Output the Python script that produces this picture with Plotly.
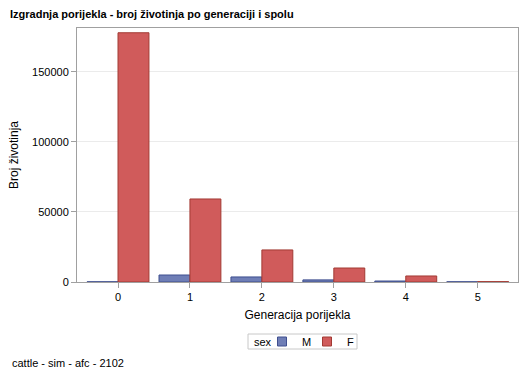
import plotly.graph_objects as go

generations = [0, 1, 2, 3, 4, 5]
male_counts = [150, 5000, 3600, 1500, 700, 150]
female_counts = [178000, 59300, 22900, 10000, 4300, 250]
y_ticks = [0, 50000, 100000, 150000]

m_fill, m_line = "#6F7EB6", "#3F4F8F"
f_fill, f_line = "#D05B5B", "#A23A33"

fig = go.Figure()
fig.add_trace(go.Bar(x=generations, y=male_counts, name="M", showlegend=False,
                     marker=dict(color=m_fill, line=dict(color=m_line, width=1))))
fig.add_trace(go.Bar(x=generations, y=female_counts, name="F", showlegend=False,
                     marker=dict(color=f_fill, line=dict(color=f_line, width=1))))
# legend entries (square swatches)
fig.add_trace(go.Scatter(x=[None], y=[None], mode="markers", name="M", legend="legend",
                         marker=dict(symbol="square", size=9, color=m_fill,
                                     line=dict(color=m_line, width=1))))
fig.add_trace(go.Scatter(x=[None], y=[None], mode="markers", name="F", legend="legend2",
                         marker=dict(symbol="square", size=9, color=f_fill,
                                     line=dict(color=f_line, width=1))))

L, T, R, B = 77, 28, 518, 282
W, H = R - L, B - T
def px(x):
    return (x - L) / W
def py(y):
    return (B - y) / H

font = "Liberation Sans, Arial, sans-serif"
leg_common = dict(orientation="h", xanchor="left", y=py(341.5), yanchor="middle",
                  font=dict(size=11, color="#000"), borderwidth=0, bgcolor="rgba(0,0,0,0)",
                  itemwidth=30)
fig.update_layout(
    width=529, height=378,
    margin=dict(l=L, r=529 - R, t=T, b=378 - B, autoexpand=False),
    paper_bgcolor="white", plot_bgcolor="white",
    font=dict(family=font, size=12, color="#000000"),
    barmode="group", bargap=0.14, bargroupgap=0,
    showlegend=True,
    legend=dict(x=px(262), **leg_common),
    legend2=dict(x=px(307), **leg_common),
    title=dict(text="<b>Izgradnja porijekla - broj životinja po generaciji i spolu</b>",
               x=10/529, xanchor="left", y=1-14/378, yanchor="middle",
               font=dict(size=11, family=font, color="#000")),
    annotations=[
        dict(text="cattle - sim - afc - 2102", xref="paper", yref="paper",
             x=px(10), xanchor="left", y=py(363), yanchor="middle",
             showarrow=False, font=dict(size=11, color="#000")),
        dict(text="sex", xref="paper", yref="paper",
             x=px(252), xanchor="left", y=py(341.5), yanchor="middle",
             showarrow=False, font=dict(size=11, color="#000")),
    ],
    shapes=[dict(type="rect", xref="paper", yref="paper",
                 x0=px(248), x1=px(357), y0=py(334), y1=py(349),
                 line=dict(color="#C8C8C8", width=1), fillcolor="rgba(0,0,0,0)")],
)
fig.update_xaxes(range=[-0.57, 5.56], tickvals=generations, ticks="outside", ticklen=5,
                 tickcolor="#A0A0A0", showline=True, linecolor="#A0A0A0", mirror=True,
                 showgrid=False, zeroline=False, tickfont=dict(size=11, color="#000"),
                 automargin=False,
                 title=dict(text="Generacija porijekla", font=dict(size=12, color="#000"), standoff=8))
fig.update_yaxes(range=[0, 181400], tickvals=y_ticks, tickformat="d", ticks="outside", ticklen=5,
                 tickcolor="#A0A0A0", showline=True, linecolor="#A0A0A0", mirror=True,
                 showgrid=True, gridcolor="#EBEBEB", zeroline=False, tickfont=dict(size=11, color="#000"),
                 automargin=False,
                 title=dict(text="Broj životinja", font=dict(size=12, color="#000"), standoff=10))
fig.write_html("out.html", config={"displayModeBar": False},
               post_script="document.body.style.margin='0';")
